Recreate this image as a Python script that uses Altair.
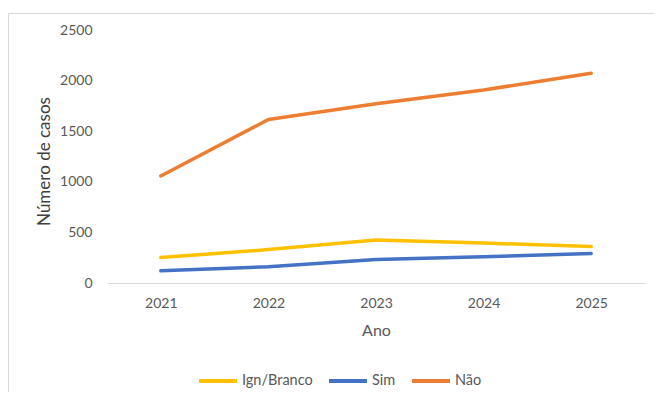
import altair as alt
import pandas as pd

anos = ["2021", "2022", "2023", "2024", "2025"]
ign_branco = [252, 330, 425, 395, 360]
sim = [120, 161, 232, 260, 292]
nao = [1057, 1615, 1772, 1907, 2073]

series = ["Ign/Branco", "Sim", "Não"]
cores = ["#FFC000", "#4472C4", "#ED7D31"]

rows = []
for nome, vals in zip(series, [ign_branco, sim, nao]):
    for a, v in zip(anos, vals):
        rows.append({"Ano": a, "Serie": nome, "Casos": v})
df = pd.DataFrame(rows)

FONT = "Lato"
GRAY = "#595959"

one = pd.DataFrame({"a": [0]})
border_left = alt.Chart(one).mark_rule(stroke="#d9d9d9", strokeWidth=1).encode(
    x=alt.value(-98.5), y=alt.value(-16.5), y2=alt.value(362)
)
border_top = alt.Chart(one).mark_rule(stroke="#d9d9d9", strokeWidth=1).encode(
    x=alt.value(-98.5), x2=alt.value(547), y=alt.value(-16.5)
)

lines = alt.Chart(df).mark_line(strokeWidth=3.5, strokeCap="round", strokeJoin="round").encode(
    x=alt.X("Ano:N", sort=anos, scale=alt.Scale(type="point", padding=0.5),
            axis=alt.Axis(title="Ano", labelAngle=0, ticks=False, domainColor="#d9d9d9",
                          domainWidth=1, labelPadding=13, labelFontSize=14, labelColor=GRAY,
                          labelFont=FONT, titleFont=FONT, titleFontSize=16, titleColor=GRAY,
                          titleFontWeight="normal", titlePadding=12, grid=False)),
    y=alt.Y("Casos:Q", scale=alt.Scale(domain=[0, 2500], nice=False),
            axis=alt.Axis(title="Número de casos", values=[0, 500, 1000, 1500, 2000, 2500],
                          format="d", domain=False, ticks=False, grid=False, labelPadding=15,
                          labelFontSize=14, labelColor=GRAY, labelFont=FONT,
                          titleFont=FONT, titleFontSize=17, titleColor="#404040",
                          titleFontWeight="normal", titleX=-63, titleY=131,
                          titleAngle=-90, titleBaseline="middle", titleAlign="center")),
    color=alt.Color("Serie:N", scale=alt.Scale(domain=series, range=cores),
                    legend=alt.Legend(title=None, orient="none", direction="horizontal",
                                      legendX=90, legendY=330, symbolType="stroke",
                                      symbolSize=1444, symbolStrokeWidth=4,
                                      labelFont=FONT, labelFontSize=14.5, labelColor=GRAY,
                                      labelOffset=3, columnPadding=8)),
    order=alt.Order("Ano:N"),
)

chart = alt.layer(border_left, border_top, lines).properties(
    width=538, height=253,
    padding={"left": 99, "top": 22, "right": 9, "bottom": 109},
    autosize=alt.AutoSizeParams(type="none"),
).configure(background="white").configure_view(stroke=None)

chart.save("out.html", embed_options={"renderer": "svg", "actions": False})
